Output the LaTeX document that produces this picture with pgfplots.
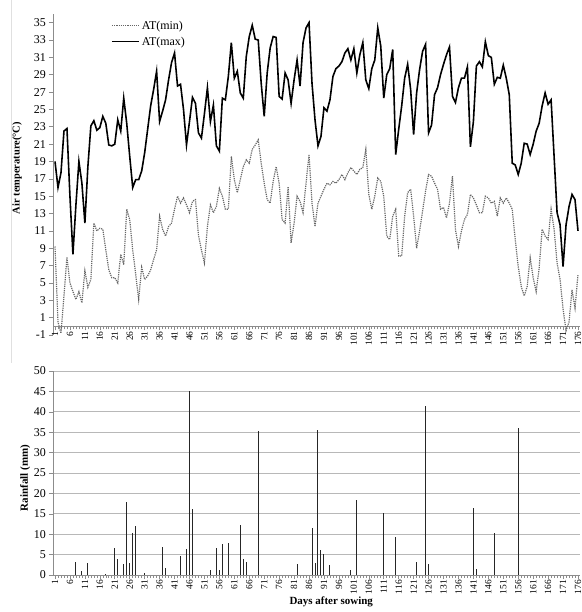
\documentclass[border=0pt]{standalone}
\usepackage{fontspec}
\setmainfont{Liberation Serif}
\usepackage{pgfplots}
\pgfplotsset{compat=1.18}
\begin{document}
\begin{tikzpicture}
\useasboundingbox (0,0) rectangle (582bp,612bp);
\draw[black!12, line width=0.6bp] (11.7bp,249bp) -- (11.7bp,612bp);
\begin{axis}[
  at={(53bp,277bp)}, anchor=south west,
  scale only axis, width=527bp, height=321bp,
  xmin=0.33, xmax=176.67, ymin=-1, ymax=36,
  axis x line*=middle, axis y line*=left,
  axis line style={black!45, line width=0.8bp},
  tick style={black!45, line width=0.6bp},
  major tick length=4bp, minor tick length=3bp,
  tick align=outside,
  xtick={1,6,...,176}, minor x tick num=4,
  ytick={-1,1,...,35},
  /pgf/number format/assume math mode=true,
  xticklabel style={rotate=90, anchor=east, font=\fontsize{9.5}{10}\selectfont, inner sep=1bp},
  yticklabel style={font=\fontsize{12}{12}\selectfont, inner sep=1bp, xshift=-2bp},
  ylabel={Air temperature(°C)},
  ylabel style={at={(axis description cs:-0.068,0.52)}, anchor=center, font=\bfseries\fontsize{10.5}{12}\selectfont},
  legend style={at={(0.11,0.985)}, anchor=north west, draw=none, fill=none,
    font=\fontsize{12}{13}\selectfont, row sep=2bp, inner sep=0pt},
  legend cell align=left,
  legend image code/.code={\draw[#1] (0bp,0bp) -- (27bp,0bp);},
]
\addplot[black!60, densely dotted, line width=1.2pt] coordinates {
(1,9.2) (2,0.5) (3,-0.8) (4,3.5) (5,8.0) (6,5.0) (7,4.0) (8,3.1) (9,4.0) (10,2.7)
(11,6.4) (12,4.5) (13,5.4) (14,11.9) (15,11) (16,11.3) (17,11.2) (18,8.8) (19,6.5) (20,5.6)
(21,5.6) (22,5.0) (23,8.3) (24,7.1) (25,13.5) (26,12.3) (27,8.8) (28,6.0) (29,3.1) (30,6.8)
(31,5.4) (32,5.8) (33,6.5) (34,7.7) (35,8.8) (36,12.7) (37,11.2) (38,10.4) (39,11.5) (40,11.9)
(41,13.5) (42,15.0) (43,14.2) (44,14.8) (45,14.0) (46,13.1) (47,14.4) (48,14.6) (49,10.5) (50,8.8)
(51,7.3) (52,11.5) (53,14.0) (54,13.1) (55,13.8) (56,15.9) (57,15) (58,13.5) (59,13.5) (60,19.6)
(61,16.9) (62,15.4) (63,16.9) (64,18.4) (65,19.2) (66,18.8) (67,20.4) (68,20.9) (69,21.5) (70,18.8)
(71,16.5) (72,14.6) (73,14.2) (74,16.7) (75,18.4) (76,16.5) (77,12.3) (78,11.9) (79,16.1) (80,9.6)
(81,11.9) (82,15) (83,14.4) (84,13.1) (85,16.5) (86,19.8) (87,14.2) (88,11.5) (89,14.2) (90,15.0)
(91,15.8) (92,16.5) (93,16.3) (94,16.7) (95,16.5) (96,16.9) (97,17.5) (98,16.9) (99,17.7) (100,18.3)
(101,17.9) (102,17.5) (103,18.1) (104,18.3) (105,20.4) (106,15.2) (107,13.5) (108,15) (109,17.1) (110,16.7)
(111,15) (112,10.4) (113,10) (114,12.7) (115,13.5) (116,8.1) (117,8.1) (118,12.7) (119,15.4) (120,15.8)
(121,12.7) (122,9.0) (123,11) (124,13.3) (125,15.6) (126,17.5) (127,17.3) (128,16.5) (129,15.8) (130,13.5)
(131,13.7) (132,12.5) (133,14.2) (134,17.3) (135,11.1) (136,9.2) (137,11) (138,12.3) (139,12.9) (140,15.2)
(141,14.8) (142,14) (143,13.1) (144,13.1) (145,15) (146,14.8) (147,14.2) (148,14.4) (149,12.7) (150,14.8)
(151,14.2) (152,14.8) (153,14.2) (154,13.5) (155,10) (156,6.9) (157,4.6) (158,3.5) (159,4.6) (160,7.9)
(161,5.6) (162,4.0) (163,6.7) (164,11.2) (165,10.4) (166,10) (167,13.5) (168,11.2) (169,7.3) (170,5.4)
(171,2.0) (172,-0.5) (173,0.5) (174,4.2) (175,2.1) (176,6.0)
};
\addlegendentry{AT(min)}
\addplot[black, line width=1.6pt] coordinates {
(1,19) (2,16) (3,17.7) (4,22.5) (5,22.8) (6,15) (7,8.3) (8,14) (9,19) (10,16.5)
(11,11.9) (12,18.4) (13,23.1) (14,23.7) (15,22.6) (16,22.9) (17,24.2) (18,23.4) (19,20.9) (20,20.8)
(21,21) (22,23.8) (23,22.5) (24,26.3) (25,23.4) (26,19.6) (27,16) (28,16.9) (29,16.9) (30,17.9)
(31,20) (32,22.7) (33,25.4) (34,27.3) (35,29.4) (36,23.6) (37,24.8) (38,26.1) (39,28.4) (40,30.4)
(41,31.5) (42,27.7) (43,27.9) (44,25) (45,20.9) (46,23.6) (47,26.4) (48,25.7) (49,22.3) (50,21.7)
(51,24.5) (52,27.5) (53,23.6) (54,25.5) (55,20.8) (56,20.2) (57,26.3) (58,26.1) (59,28.8) (60,32.7)
(61,28.6) (62,29.4) (63,26.9) (64,26.3) (65,31.1) (66,33.4) (67,34.7) (68,33.1) (69,33) (70,28)
(71,24.2) (72,29.2) (73,32.1) (74,33.4) (75,33.3) (76,26.5) (77,26.2) (78,29.2) (79,28.4) (80,25.7)
(81,28.4) (82,30.7) (83,27.7) (84,32.7) (85,34.4) (86,35) (87,28) (88,23.8) (89,20.8) (90,21.9)
(91,25.2) (92,24.8) (93,26.1) (94,28.8) (95,29.7) (96,30) (97,30.5) (98,31.5) (99,32) (100,30.7)
(101,32) (102,29.2) (103,31.3) (104,32.7) (105,28.4) (106,27.4) (107,29.7) (108,30.7) (109,34.4) (110,32.3)
(111,26.3) (112,29) (113,29.7) (114,31.9) (115,19.8) (116,22.7) (117,25.4) (118,28.6) (119,30.2) (120,27.3)
(121,22.1) (122,26.9) (123,29.6) (124,31.7) (125,32.5) (126,22.3) (127,23.2) (128,26.7) (129,27.5) (130,29)
(131,30.2) (132,31.3) (133,32.2) (134,26.5) (135,25.8) (136,27.5) (137,28.6) (138,28.6) (139,29.9) (140,20.7)
(141,23.6) (142,30) (143,30.5) (144,29.9) (145,32.8) (146,31.2) (147,31) (148,27.9) (149,28.7) (150,28.6)
(151,30.1) (152,28.6) (153,26.7) (154,18.8) (155,18.6) (156,17.5) (157,18.8) (158,21.1) (159,21) (160,19.8)
(161,21) (162,22.5) (163,23.4) (164,25.4) (165,26.9) (166,25.6) (167,26.1) (168,19.6) (169,13.1) (170,11.7)
(171,6.9) (172,11.7) (173,13.8) (174,15.2) (175,14.6) (176,11)
};
\addlegendentry{AT(max)}
\end{axis}

\begin{axis}[
  at={(53bp,37bp)}, anchor=south west,
  scale only axis, width=527bp, height=204bp,
  xmin=0.33, xmax=176.67, ymin=0, ymax=50,
  axis x line*=bottom, axis y line*=left,
  axis line style={black!45, line width=0.8bp},
  tick style={black!45, line width=0.6bp},
  major tick length=4bp, minor tick length=3bp,
  tick align=outside,
  xtick={1,6,...,176}, minor x tick num=4,
  ytick={0,5,...,50},
  ymajorgrids, major grid style={black!28, line width=0.9bp},
  /pgf/number format/assume math mode=true,
  xticklabel style={rotate=90, anchor=east, font=\fontsize{9.5}{10}\selectfont, inner sep=1bp},
  yticklabel style={font=\fontsize{12}{12}\selectfont, inner sep=1bp, xshift=-2bp},
  ylabel={Rainfall (mm)},
  ylabel style={at={(axis description cs:-0.053,0.475)}, anchor=center, font=\bfseries\fontsize{11}{12}\selectfont},
  xlabel={Days after sowing},
  xlabel style={at={(ticklabel cs:0.528)}, font=\bfseries\fontsize{11}{12}\selectfont, inner sep=1bp},
]
\addplot[ycomb, black!85, line width=1.0pt] coordinates {
(8,3.1) (10,0.9) (12,2.9) (18,0.2) (21,6.6) (22,3.9) (24,2.7) (25,17.9) (26,2.9) (27,10.3)
(28,12.1) (31,0.5) (37,6.9) (38,1.6) (43,4.6) (45,6.4) (46,45.2) (47,16.1) (53,1.3) (55,6.7)
(56,1.3) (57,7.6) (59,7.8) (63,12.2) (64,3.9) (65,3.3) (69,35.2) (82,2.6) (87,11.4) (88,2.9)
(89,35.6) (90,6.2) (91,5.1) (93,2.5) (100,1.3) (102,18.3) (111,15.3) (115,9.4) (122,3.3) (125,41.5)
(126,2.8) (141,16.3) (142,1.5) (148,10.4) (156,36)
};
\end{axis}
\end{tikzpicture}
\end{document}
